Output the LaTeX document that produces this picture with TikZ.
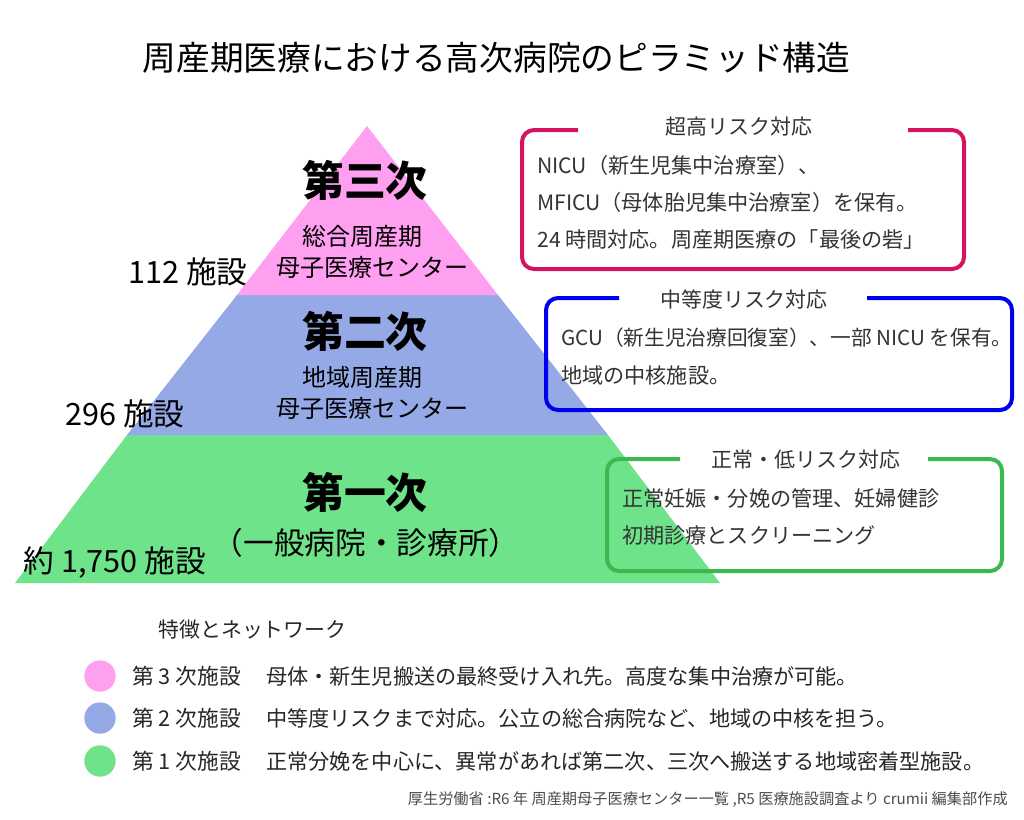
\documentclass[tikz,border=0pt]{standalone}
\usepackage{fontspec}
\setmainfont{Noto Sans CJK JP}
\definecolor{pinktier}{HTML}{FF9FF0}
\definecolor{bluetier}{HTML}{94A9E6}
\definecolor{greentier}{HTML}{6EE38A}
\definecolor{redframe}{HTML}{D4145F}
\definecolor{blueframe}{HTML}{0000F0}
\definecolor{greenframe}{HTML}{3CB850}
\tikzset{
  rank/.style={font=\fontsize{31.4}{31.4}\selectfont\bfseries},
  tiername/.style={font=\fontsize{18}{18}\selectfont},
  tiercount/.style={font=\fontsize{23}{23}\selectfont},
  boxhead/.style={font=\fontsize{15.7}{15.7}\selectfont,text=black!80},
  boxtext/.style={anchor=west,inner sep=0pt,font=\fontsize{15.85}{15.85}\selectfont,text=black!80},
  frame/.style={line width=3pt,rounded corners=9pt},
  legendtext/.style={anchor=west,inner sep=0pt,font=\fontsize{15.85}{15.85}\selectfont,text=black!85},
  dot/.style={circle,minimum size=23.5pt,inner sep=0pt},
}
\begin{document}
\begin{tikzpicture}[x=0.75pt,y=-0.75pt]
\useasboundingbox (0,0) rectangle (1024,819);
% pyramid
\fill[greentier] (15,583) -- (720,583) -- (608,435) -- (127,435) -- cycle;
\fill[bluetier] (127,435) -- (608,435) -- (498,295) -- (237,295) -- cycle;
\fill[pinktier] (237,295) -- (498,295) -- (367,126) -- cycle;
\node (title) at (496.5,58) {\fontsize{25.27}{25.27}\selectfont 周産期医療における高次病院のピラミッド構造};
% tiers
\node[rank] (third) at (365,180) {第三次};
\node[tiername] (thirda) at (362,236) {総合周産期};
\node[tiername] (thirdb) at (372,267) {母子医療センター};
\node[rank] (second) at (365,331) {第二次};
\node[tiername] (seconda) at (362,377) {地域周産期};
\node[tiername] (secondb) at (372,408) {母子医療センター};
\node[rank] (first) at (365,492) {第一次};
\node[font=\fontsize{23}{23}\selectfont] (firsta) at (366,543) {（一般病院・診療所）};
\node[tiercount] (count3) at (188,271.5) {112 施設};
\node[tiercount] (count2) at (125,414) {296 施設};
\node[tiercount] (count1) at (115,562.5) {約 1,750 施設};
% boxes
\draw[frame,redframe] (578,130) -- (522,130) -- (522,269) -- (964,269) -- (964,130) -- (908,130);
\node[boxhead] (redhead) at (739,127) {超高リスク対応};
\node[boxtext] (red1) at (537,165) {NICU（新生児集中治療室）、};
\node[boxtext] (red2) at (537,202) {MFICU（母体胎児集中治療室）を保有。};
\node[boxtext] (red3) at (537,239) {24 時間対応。周産期医療の「最後の砦」};
\draw[frame,blueframe] (619,298) -- (546,298) -- (546,410) -- (1012,410) -- (1012,298) -- (867,298);
\node[boxhead] (bluehead) at (744,300) {中等度リスク対応};
\node[boxtext,font=\fontsize{15.5}{15.5}\selectfont] (blue1) at (561,338) {GCU（新生児治療回復室）、一部 NICU を保有。};
\node[boxtext] (blue2) at (561,375) {地域の中核施設。};
\draw[frame,greenframe] (680,459) -- (607,459) -- (607,571) -- (1002,571) -- (1002,459) -- (928,459);
\node[boxhead] (greenhead) at (806,460) {正常・低リスク対応};
\node[boxtext] (green1) at (622,498) {正常妊娠・分娩の管理、妊婦健診};
\node[boxtext] (green2) at (622,535) {初期診療とスクリーニング};
% legend
\node[legendtext,font=\fontsize{15.7}{15.7}\selectfont] (legendhead) at (158,630) {特徴とネットワーク};
\foreach \n/\y/\c/\t in {3/676/pinktier/母体・新生児搬送の最終受け入れ先。高度な集中治療が可能。,
  2/718/bluetier/中等度リスクまで対応。公立の総合病院など、地域の中核を担う。,
  1/761/greentier/正常分娩を中心に、異常があれば第二次、三次へ搬送する地域密着型施設。} {
\node[dot,fill=\c] (dot\n) at (100,\y) {};
\node[legendtext,font=\fontsize{16.3}{16.3}\selectfont] (name\n) at (132,\y) {第 \n{} 次施設};
\node[legendtext] (text\n) at (266,\y) {\t};
}
\node[anchor=east,inner sep=0pt,font=\fontsize{11.4}{11.4}\selectfont,text=black!70] (source) at (1008,800) {厚生労働省 :R6 年 周産期母子医療センター一覧 ,R5 医療施設調査より crumii 編集部作成};
\end{tikzpicture}
\end{document}
